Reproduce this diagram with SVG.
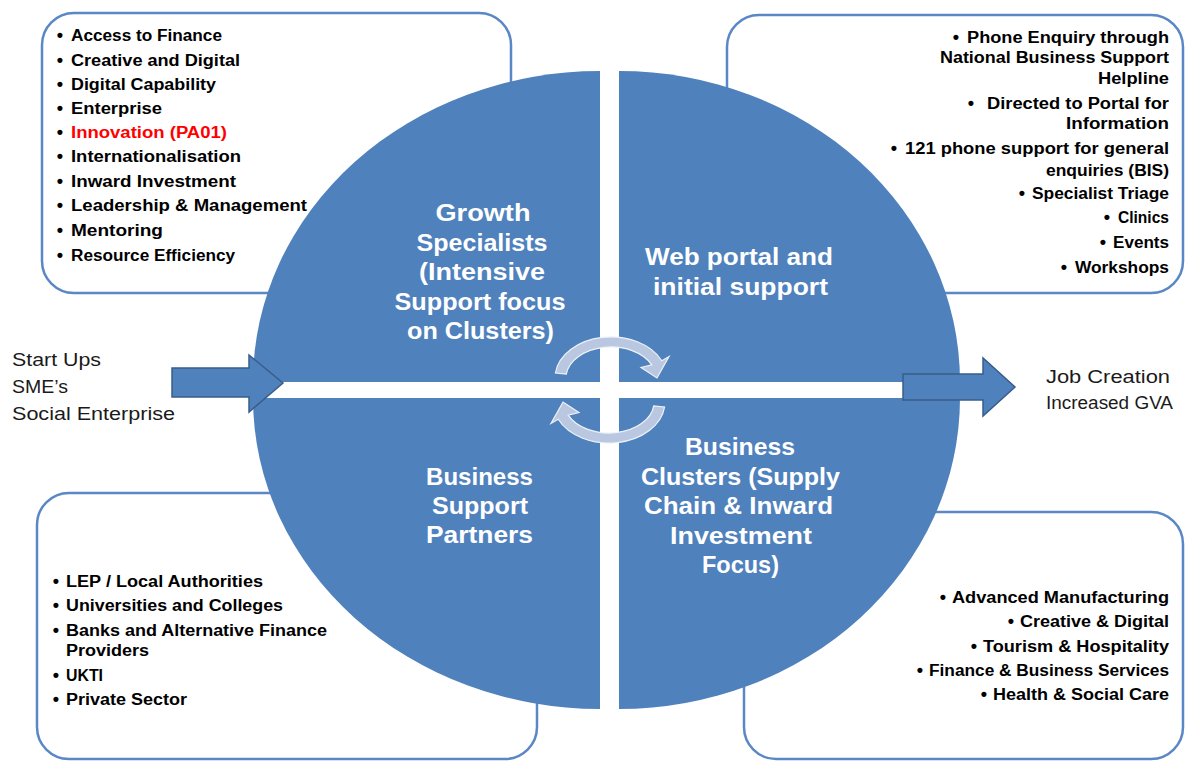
<svg xmlns="http://www.w3.org/2000/svg" width="1196" height="761" viewBox="0 0 1196 761">
  <style>
    .box { fill: #ffffff; stroke: #5a87c5; stroke-width: 2.5; }
    .quad { fill: #4f81bd; }
    .flow { fill: #4f81bd; stroke: #385d8a; stroke-width: 1.5; }
    .cycle { fill: #b9c8e0; stroke: #eef2f8; stroke-width: 1.2; }
    .item { font-family: "Liberation Sans", Arial, sans-serif; font-weight: bold; font-size: 16px; fill: #000; }
    .item.end { text-anchor: end; }
    .red { fill: #ff0000; }
    .bul { font-family: "Liberation Sans", Arial, sans-serif; font-weight: bold; font-size: 18px; text-anchor: middle; fill: #000; }
    .label { font-family: "Liberation Sans", Arial, sans-serif; font-weight: bold; font-size: 23px; fill: #ffffff; text-anchor: middle; }
    .plain { font-family: "Liberation Sans", Arial, sans-serif; font-size: 17.5px; fill: #1a1a1a; }
  </style>

  <!-- text panels behind the wheel -->
  <g id="panel-growth">
    <rect class="box" x="42" y="13" width="469" height="280" rx="32"/>
  </g>
  <g id="panel-portal">
    <rect class="box" x="727" y="15" width="456" height="278" rx="32"/>
  </g>
  <g id="panel-partners">
    <rect class="box" x="37" y="493" width="500" height="266" rx="32"/>
  </g>
  <g id="panel-clusters">
    <rect class="box" x="744" y="512" width="439" height="247" rx="32"/>
  </g>

  <!-- four quarters of the wheel -->
  <g id="quadrant-growth">
    <path class="quad" d="M600,382 L253,382 A347,311 0 0 1 600,71 Z"/>
    <text class="label" x="483" y="221" textLength="95" lengthAdjust="spacingAndGlyphs">Growth</text>
    <text class="label" x="482" y="250.5" textLength="131" lengthAdjust="spacingAndGlyphs">Specialists</text>
    <text class="label" x="482" y="280" textLength="126" lengthAdjust="spacingAndGlyphs">(Intensive</text>
    <text class="label" x="480" y="309.5" textLength="171" lengthAdjust="spacingAndGlyphs">Support focus</text>
    <text class="label" x="480.5" y="339" textLength="147" lengthAdjust="spacingAndGlyphs">on Clusters)</text>
  </g>
  <g id="quadrant-portal">
    <path class="quad" d="M619,382 L619,71 A341,311 0 0 1 960,382 Z"/>
    <text class="label" x="739" y="265" textLength="188" lengthAdjust="spacingAndGlyphs">Web portal and</text>
    <text class="label" x="740.5" y="295" textLength="175" lengthAdjust="spacingAndGlyphs">initial support</text>
  </g>
  <g id="quadrant-partners">
    <path class="quad" d="M600,398 L600,709 A347,311 0 0 1 253,398 Z"/>
    <text class="label" x="479.5" y="485" textLength="107" lengthAdjust="spacingAndGlyphs">Business</text>
    <text class="label" x="480" y="514" textLength="96" lengthAdjust="spacingAndGlyphs">Support</text>
    <text class="label" x="479.5" y="543" textLength="107" lengthAdjust="spacingAndGlyphs">Partners</text>
  </g>
  <g id="quadrant-clusters">
    <path class="quad" d="M619,398 L960,398 A341,311 0 0 1 619,709 Z"/>
    <text class="label" x="740" y="455" textLength="110" lengthAdjust="spacingAndGlyphs">Business</text>
    <text class="label" x="740.5" y="485" textLength="199" lengthAdjust="spacingAndGlyphs">Clusters (Supply</text>
    <text class="label" x="738.5" y="514" textLength="189" lengthAdjust="spacingAndGlyphs">Chain &amp; Inward</text>
    <text class="label" x="741" y="544" textLength="142" lengthAdjust="spacingAndGlyphs">Investment</text>
    <text class="label" x="740.5" y="573" textLength="77" lengthAdjust="spacingAndGlyphs">Focus)</text>
  </g>

  <!-- connectors: cycle arrows and in/out flow arrows -->
  <g id="connectors">
    <path id="cycle-top" class="cycle" d="M555.4,373 A56,41 0 0 1 661.8,360.7 L669,356.5 L657,378 L641,367.5 L651.8,364.9 A45,31 0 0 0 566.3,374.2 Z"/>
    <path id="cycle-bottom" class="cycle" transform="rotate(180 610 390)" d="M555.4,373 A56,41 0 0 1 661.8,360.7 L669,356.5 L657,378 L641,367.5 L651.8,364.9 A45,31 0 0 0 566.3,374.2 Z"/>
    <path id="flow-in" class="flow" d="M172,368 L249,368 L249,355 L283,383 L249,412 L249,397 L172,397 Z"/>
    <path id="flow-out" class="flow" d="M903,374 L983,374 L983,358 L1015,387 L983,416 L983,400 L903,400 Z"/>
  </g>

  <!-- inputs and outcomes -->
  <g id="inputs">
    <text class="plain" x="12" y="366" textLength="89" lengthAdjust="spacingAndGlyphs">Start Ups</text>
    <text class="plain" x="12" y="393" textLength="56" lengthAdjust="spacingAndGlyphs">SME’s</text>
    <text class="plain" x="12" y="420" textLength="163" lengthAdjust="spacingAndGlyphs">Social Enterprise</text>
  </g>
  <g id="outcomes">
    <text class="plain" x="1046" y="383" textLength="124" lengthAdjust="spacingAndGlyphs">Job Creation</text>
    <text class="plain" x="1046" y="409" textLength="127" lengthAdjust="spacingAndGlyphs">Increased GVA</text>
  </g>

  <!-- growth specialist topics -->
  <g id="list-growth">
    <text class="bul" x="60" y="41">•</text>
    <text class="item" x="71" y="41" textLength="151" lengthAdjust="spacingAndGlyphs">Access to Finance</text>
    <text class="bul" x="60" y="65.5">•</text>
    <text class="item" x="71" y="65.5" textLength="169" lengthAdjust="spacingAndGlyphs">Creative and Digital</text>
    <text class="bul" x="60" y="90">•</text>
    <text class="item" x="71" y="90" textLength="145" lengthAdjust="spacingAndGlyphs">Digital Capability</text>
    <text class="bul" x="60" y="114">•</text>
    <text class="item" x="71" y="114" textLength="91" lengthAdjust="spacingAndGlyphs">Enterprise</text>
    <text class="bul red" x="60" y="137.5">•</text>
    <text class="item red" x="71" y="137.5" textLength="156" lengthAdjust="spacingAndGlyphs">Innovation (PA01)</text>
    <text class="bul" x="60" y="162">•</text>
    <text class="item" x="71" y="162" textLength="170" lengthAdjust="spacingAndGlyphs">Internationalisation</text>
    <text class="bul" x="60" y="187">•</text>
    <text class="item" x="71" y="187" textLength="165" lengthAdjust="spacingAndGlyphs">Inward Investment</text>
    <text class="bul" x="60" y="211">•</text>
    <text class="item" x="71" y="211" textLength="236" lengthAdjust="spacingAndGlyphs">Leadership &amp; Management</text>
    <text class="bul" x="60" y="236">•</text>
    <text class="item" x="71" y="236" textLength="92" lengthAdjust="spacingAndGlyphs">Mentoring</text>
    <text class="bul" x="60" y="260.5">•</text>
    <text class="item" x="71" y="260.5" textLength="164" lengthAdjust="spacingAndGlyphs">Resource Efficiency</text>
  </g>

  <!-- portal support channels -->
  <g id="list-portal">
    <text class="bul" x="956" y="42.5">•</text>
    <text class="item end" x="1169" y="42.5" textLength="202" lengthAdjust="spacingAndGlyphs">Phone Enquiry through</text>
    <text class="item end" x="1169" y="63" textLength="229" lengthAdjust="spacingAndGlyphs">National Business Support</text>
    <text class="item end" x="1169" y="84" textLength="71" lengthAdjust="spacingAndGlyphs">Helpline</text>
    <text class="bul" x="971" y="109">•</text>
    <text class="item end" x="1169" y="109" textLength="182" lengthAdjust="spacingAndGlyphs">Directed to Portal for</text>
    <text class="item end" x="1169" y="129" textLength="103" lengthAdjust="spacingAndGlyphs">Information</text>
    <text class="bul" x="894" y="154">•</text>
    <text class="item end" x="1169" y="154" textLength="264" lengthAdjust="spacingAndGlyphs">121 phone support for general</text>
    <text class="item end" x="1169" y="175.5" textLength="123" lengthAdjust="spacingAndGlyphs">enquiries (BIS)</text>
    <text class="bul" x="1022" y="199">•</text>
    <text class="item end" x="1169" y="199" textLength="137" lengthAdjust="spacingAndGlyphs">Specialist Triage</text>
    <text class="bul" x="1107" y="222.5">•</text>
    <text class="item end" x="1169" y="222.5" textLength="51" lengthAdjust="spacingAndGlyphs">Clinics</text>
    <text class="bul" x="1103" y="247.5">•</text>
    <text class="item end" x="1169" y="247.5" textLength="56" lengthAdjust="spacingAndGlyphs">Events</text>
    <text class="bul" x="1064" y="272.5">•</text>
    <text class="item end" x="1169" y="272.5" textLength="94" lengthAdjust="spacingAndGlyphs">Workshops</text>
  </g>

  <!-- support partners -->
  <g id="list-partners">
    <text class="bul" x="56" y="586.5">•</text>
    <text class="item" x="66" y="586.5" textLength="197" lengthAdjust="spacingAndGlyphs">LEP / Local Authorities</text>
    <text class="bul" x="56" y="611">•</text>
    <text class="item" x="66" y="611" textLength="217" lengthAdjust="spacingAndGlyphs">Universities and Colleges</text>
    <text class="bul" x="56" y="635.5">•</text>
    <text class="item" x="66" y="635.5" textLength="261" lengthAdjust="spacingAndGlyphs">Banks and Alternative Finance</text>
    <text class="item" x="66" y="655.5" textLength="83" lengthAdjust="spacingAndGlyphs">Providers</text>
    <text class="bul" x="56" y="680.5">•</text>
    <text class="item" x="66" y="680.5" textLength="37" lengthAdjust="spacingAndGlyphs">UKTI</text>
    <text class="bul" x="56" y="705">•</text>
    <text class="item" x="66" y="705" textLength="121" lengthAdjust="spacingAndGlyphs">Private Sector</text>
  </g>

  <!-- cluster sectors -->
  <g id="list-clusters">
    <text class="bul" x="943" y="602.5">•</text>
    <text class="item end" x="1169" y="602.5" textLength="217" lengthAdjust="spacingAndGlyphs">Advanced Manufacturing</text>
    <text class="bul" x="1011" y="627">•</text>
    <text class="item end" x="1169" y="627" textLength="149" lengthAdjust="spacingAndGlyphs">Creative &amp; Digital</text>
    <text class="bul" x="974" y="651.5">•</text>
    <text class="item end" x="1169" y="651.5" textLength="186" lengthAdjust="spacingAndGlyphs">Tourism &amp; Hospitality</text>
    <text class="bul" x="920" y="676">•</text>
    <text class="item end" x="1169" y="676" textLength="240" lengthAdjust="spacingAndGlyphs">Finance &amp; Business Services</text>
    <text class="bul" x="984" y="699.5">•</text>
    <text class="item end" x="1169" y="699.5" textLength="176" lengthAdjust="spacingAndGlyphs">Health &amp; Social Care</text>
  </g>
</svg>
